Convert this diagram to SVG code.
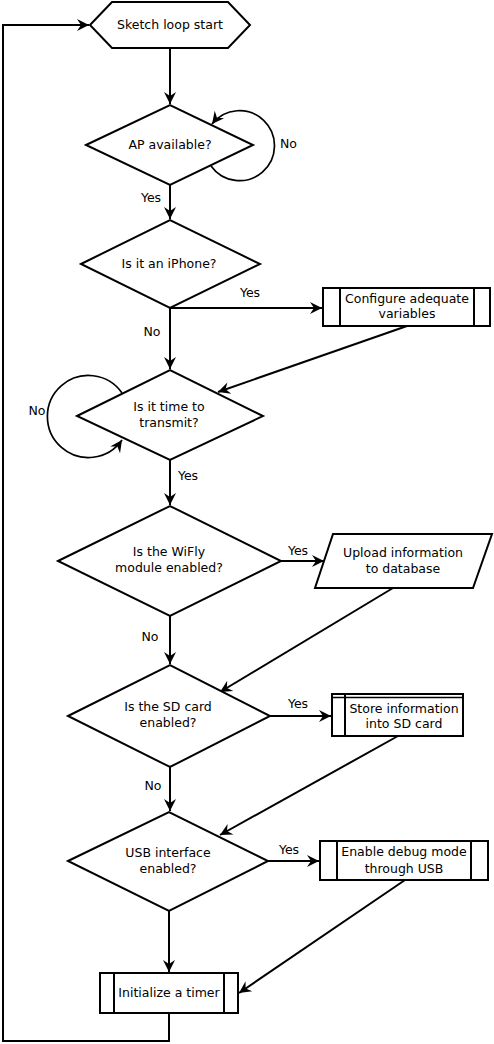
<svg xmlns="http://www.w3.org/2000/svg" width="494" height="1044" viewBox="0 0 494 1044">
<style>
.s{fill:#fff;stroke:#000;stroke-width:2}
.c{fill:none;stroke:#000;stroke-width:2}
.a{fill:none;stroke:#000;stroke-width:1.7}
text{font-family:"DejaVu Sans",sans-serif;font-size:12.5px;fill:#000;text-anchor:middle}
.l{text-anchor:start}
</style>
<defs>
<marker id="ah" markerUnits="userSpaceOnUse" markerWidth="14" markerHeight="14" viewBox="-13 -7 14 14" refX="0" refY="0" orient="auto" overflow="visible">
<path d="M0,0 L-12,-6 L-8,0 L-12,6 Z" fill="#000"/>
</marker>
</defs>
<rect width="494" height="1044" fill="#fff"/>
<g id="connectors">
<path class="c" d="M170,48 V104" marker-end="url(#ah)"/>
<path class="a" d="M211,166 A35,35 0 1 0 212,124" marker-end="url(#ah)"/>
<path class="c" d="M170,185 V219" marker-end="url(#ah)"/>
<path class="c" d="M170,308 H322" marker-end="url(#ah)"/>
<path class="c" d="M170,308 V369" marker-end="url(#ah)"/>
<path class="c" d="M407,326 L218,392" marker-end="url(#ah)"/>
<path class="a" d="M122,393 A41,41 0 1 0 122,440" marker-end="url(#ah)"/>
<path class="c" d="M170,460 V505" marker-end="url(#ah)"/>
<path class="c" d="M281,561 H324" marker-end="url(#ah)"/>
<path class="c" d="M170,616 V664" marker-end="url(#ah)"/>
<path class="c" d="M393,588 L220,692" marker-end="url(#ah)"/>
<path class="c" d="M270,716 H331" marker-end="url(#ah)"/>
<path class="c" d="M170,767 V811" marker-end="url(#ah)"/>
<path class="c" d="M398,736 L220,835" marker-end="url(#ah)"/>
<path class="c" d="M268,861 H319" marker-end="url(#ah)"/>
<path class="c" d="M405,880 L239,993" marker-end="url(#ah)"/>
<path class="c" d="M169,911 V972" marker-end="url(#ah)"/>
<path class="c" d="M169,1013 V1041 H3 V25 H89" marker-end="url(#ah)"/>
</g>
<g id="labels">
<text class="l" x="280" y="148">No</text>
<text x="151" y="202">Yes</text>
<text x="250" y="297">Yes</text>
<text x="152" y="336">No</text>
<text x="37" y="415">No</text>
<text x="188" y="480">Yes</text>
<text x="298" y="555">Yes</text>
<text x="150" y="641">No</text>
<text x="298" y="708">Yes</text>
<text x="153" y="790">No</text>
<text x="289" y="854">Yes</text>
</g>
<g id="start">
<polygon class="s" points="90,25 112,2 228,2 250,25 228,48 112,48"/>
<text x="170" y="29">Sketch loop start</text>
</g>
<g id="ap">
<polygon class="s" points="86,145 170,105 253,145 170,185"/>
<text x="170" y="149">AP available?</text>
</g>
<g id="iphone">
<polygon class="s" points="81,264 170,220 260,264 170,308"/>
<text x="169" y="268">Is it an iPhone?</text>
</g>
<g id="configure">
<rect class="s" x="323" y="288" width="167" height="38"/>
<line class="c" x1="340" y1="288" x2="340" y2="326"/>
<line class="c" x1="474" y1="288" x2="474" y2="326"/>
<text x="407" y="303">Configure adequate</text>
<text x="407" y="318">variables</text>
</g>
<g id="transmit">
<polygon class="s" points="77,416 170,370 263,416 170,460"/>
<text x="169" y="411">Is it time to</text>
<text x="169" y="427">transmit?</text>
</g>
<g id="wifly">
<polygon class="s" points="58,561 170,506 281,561 170,616"/>
<text x="169" y="556">Is the WiFly</text>
<text x="169" y="572">module enabled?</text>
</g>
<g id="upload">
<polygon class="s" points="333,534 492,534 473,588 315,588"/>
<text x="403" y="557">Upload information</text>
<text x="403" y="573">to database</text>
</g>
<g id="sdcard">
<polygon class="s" points="68,716 170,665 270,716 170,767"/>
<text x="168" y="711">Is the SD card</text>
<text x="168" y="727">enabled?</text>
</g>
<g id="store">
<rect class="s" x="332" y="694" width="131" height="42"/>
<line class="c" x1="345" y1="694" x2="345" y2="736"/>
<line class="a" x1="332" y1="697.5" x2="463" y2="697.5" stroke-width="1.2"/>
<text x="404" y="713">Store information</text>
<text x="404" y="728">into SD card</text>
</g>
<g id="usb">
<polygon class="s" points="68,861 169,812 268,861 169,911"/>
<text x="168" y="857">USB interface</text>
<text x="168" y="873">enabled?</text>
</g>
<g id="debug">
<rect class="s" x="320" y="841" width="168" height="39"/>
<line class="c" x1="337" y1="841" x2="337" y2="880"/>
<line class="c" x1="471" y1="841" x2="471" y2="880"/>
<text x="404" y="856">Enable debug mode</text>
<text x="404" y="873">through USB</text>
</g>
<g id="timer">
<rect class="s" x="100" y="973" width="138" height="40"/>
<line class="c" x1="114" y1="973" x2="114" y2="1013"/>
<line class="c" x1="224" y1="973" x2="224" y2="1013"/>
<text x="169" y="997">Initialize a timer</text>
</g>
</svg>
